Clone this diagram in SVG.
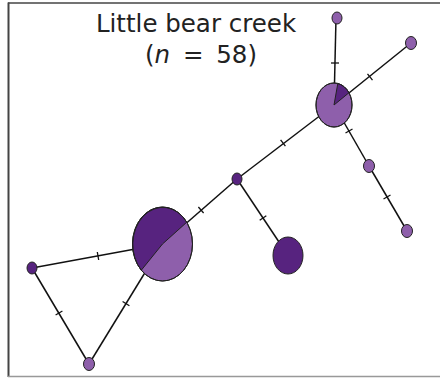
<svg xmlns="http://www.w3.org/2000/svg" width="440" height="378" viewBox="0 0 440 378">
<style>
.e{stroke:#111;stroke-width:1.5;fill:none}
.t{stroke:#111;stroke-width:1.3}
.d{fill:#57237f;stroke:#222;stroke-width:1}
.l{fill:#8e5fab;stroke:#222;stroke-width:1}
.o{fill:none;stroke:#222;stroke-width:1}
.lab{font-family:"DejaVu Sans",Verdana,sans-serif;font-size:24.5px;fill:#222;text-anchor:middle}
</style>
<rect width="440" height="378" fill="#fff"/>
<g id="frame">
<line x1="8" y1="3" x2="440" y2="3" stroke="#444" stroke-width="1.5"/>
<line x1="8.5" y1="2.5" x2="8.5" y2="377" stroke="#444" stroke-width="2"/>
<line x1="8" y1="376.5" x2="440" y2="376.5" stroke="#999" stroke-width="1.5"/>
</g>
<g id="title">
<text class="lab" x="196" y="32">Little bear creek</text>
<text class="lab" x="201" y="63" word-spacing="5">(<tspan font-style="italic">n</tspan> = 58)</text>
</g>
<g id="connectors">
<line class="e" x1="336" y1="18" x2="334" y2="105"/>
<line class="t" x1="331" y1="63" x2="339" y2="63"/>
<line class="e" x1="334" y1="105" x2="411" y2="43"/>
<line class="t" x1="367.5" y1="73.9" x2="372.5" y2="80.1"/>
<line class="e" x1="334" y1="105" x2="237" y2="179"/>
<line class="t" x1="280.6" y1="139.8" x2="285.4" y2="146.2"/>
<line class="e" x1="334" y1="105" x2="369" y2="166"/>
<line class="t" x1="345.5" y1="133" x2="352.5" y2="129"/>
<line class="e" x1="369" y1="166" x2="407" y2="231"/>
<line class="t" x1="383.5" y1="199" x2="390.5" y2="195"/>
<line class="e" x1="237" y1="179" x2="162.5" y2="244"/>
<line class="t" x1="198.4" y1="207" x2="203.6" y2="213"/>
<line class="e" x1="237" y1="179" x2="288" y2="255.5"/>
<line class="t" x1="259.7" y1="220.2" x2="266.3" y2="215.8"/>
<line class="e" x1="32" y1="268" x2="162.5" y2="244"/>
<line class="t" x1="97.3" y1="252" x2="98.7" y2="260"/>
<line class="e" x1="32" y1="268" x2="89" y2="364"/>
<line class="t" x1="55.6" y1="315" x2="62.4" y2="311"/>
<line class="e" x1="89" y1="364" x2="162.5" y2="244"/>
<line class="t" x1="122.6" y1="301.5" x2="129.4" y2="305.7"/>
</g>
<g id="n-top"><ellipse class="l" cx="337" cy="18" rx="5" ry="6"/></g>
<g id="n-upright"><ellipse class="l" cx="411" cy="43" rx="5.5" ry="6.5"/></g>
<g id="n-hub">
<ellipse class="l" cx="334" cy="105" rx="18" ry="22"/>
<path class="d" d="M334,105 L337.8,83.5 A18,22 0 0,1 349,92.7 Z" stroke-width="0.6"/>
<ellipse class="o" cx="334" cy="105" rx="18" ry="22"/>
</g>
<g id="n-mid"><ellipse class="l" cx="369" cy="166" rx="5.5" ry="6.5"/></g>
<g id="n-right"><ellipse class="l" cx="407" cy="231" rx="5.5" ry="6.5"/></g>
<g id="n-small"><ellipse class="d" cx="237" cy="179" rx="5" ry="6"/></g>
<g id="n-big">
<ellipse class="l" cx="162.5" cy="244" rx="30" ry="37"/>
<path class="d" d="M162.5,244 L186.8,222.2 A30,37 0 1,0 141.3,270.2 Z" stroke-width="0.8"/>
<ellipse class="o" cx="162.5" cy="244" rx="30" ry="37"/>
</g>
<g id="n-dark"><ellipse class="d" cx="288" cy="255.5" rx="15" ry="18.5"/></g>
<g id="n-left"><ellipse class="d" cx="32" cy="268" rx="5" ry="6"/></g>
<g id="n-bottom"><ellipse class="l" cx="89" cy="364" rx="5.5" ry="6.5"/></g>
</svg>
